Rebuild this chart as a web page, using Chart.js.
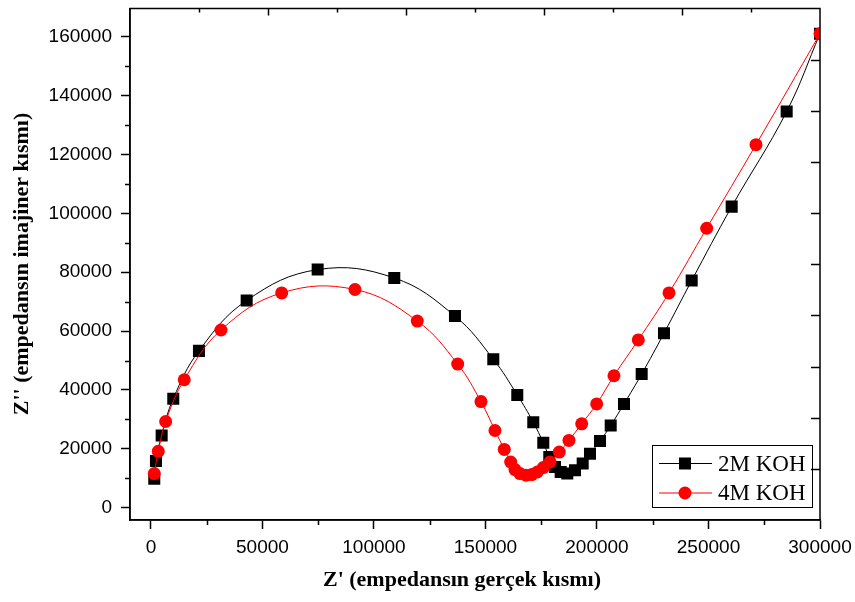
<!DOCTYPE html>
<html>
<head>
<meta charset="utf-8">
<script src="https://cdn.jsdelivr.net/npm/chart.js@4/dist/chart.umd.min.js"></script>
<style>
  html, body { margin: 0; padding: 0; background: #ffffff; }
  #wrap { width: 855px; height: 602px; }
</style>
</head>
<body>
<div id="wrap"><canvas id="c" width="855" height="602"></canvas></div>
<script>
// ---- data ----
const seriesNames = ['2M KOH', '4M KOH'];

const koh2_x = [1480, 2240, 4800, 10000, 21520, 42920, 74750, 109100, 136320, 153500,
  164260, 171430, 175920, 178610, 181160, 183720, 186680, 190130, 193590, 196860,
  201350, 206150, 212110, 220040, 230040, 242460, 260400, 285060, 300000];
const koh2_y = [9900, 15880, 24560, 37060, 53280, 70400, 80880, 78040, 65100, 50470,
  38310, 29050, 22090, 17230, 13850, 12160, 11620, 12740, 15000, 18380,
  22640, 27940, 35270, 45410, 59260, 77160, 102270, 134600, 161000];

const koh4_x = [1480, 3270, 6590, 14930, 31390, 58610, 91480, 119420, 137530, 147980,
  154260, 158430, 161300, 163230, 165470, 168160, 170720, 173230, 175920, 178920,
  183090, 187440, 193140, 199860, 207620, 218520, 232290, 249190, 271300, 300000];
const koh4_y = [11620, 19160, 29290, 43480, 60370, 72970, 74120, 63410, 48790, 36050,
  26250, 19830, 15540, 12970, 11620, 11050, 11280, 12160, 13650, 15540,
  18920, 22870, 28510, 35270, 44830, 56990, 72970, 94930, 123310, 161000];

const xTickValues = [0, 50000, 100000, 150000, 200000, 250000, 300000];
const yTickValues = [0, 20000, 40000, 60000, 80000, 100000, 120000, 140000, 160000];
const xMinorValues = [25000, 75000, 125000, 175000, 225000, 275000];
const yMinorValues = [10000, 30000, 50000, 70000, 90000, 110000, 130000, 150000];

const xTitle = "Z' (empedansın gerçek kısmı)";
const yTitle = "Z'' (empedansın imajiner kısmı)";

// ---- helpers ----
function pts(xs, ys) { return xs.map((x, i) => ({ x: x, y: ys[i] })); }

const tickFont = { family: '"Liberation Sans", Arial, sans-serif', size: 19 };

function noScalePadding(s) {
  s.paddingTop = 0; s.paddingBottom = 0; s.paddingLeft = 0; s.paddingRight = 0;
}

const framePlugin = {
  id: 'framePlugin',
  afterDraw(chart) {
    const ctx = chart.ctx;
    const ca = chart.chartArea;
    const xs = chart.scales.x, ys = chart.scales.y;
    ctx.save();
    ctx.strokeStyle = '#000';
    ctx.lineWidth = 1.5;
    ctx.strokeRect(ca.left, ca.top, ca.right - ca.left, ca.bottom - ca.top);
    // minor ticks (outward) on bottom / left
    ctx.beginPath();
    xMinorValues.forEach(v => {
      const px = Math.round(xs.getPixelForValue(v)) + 0.5;
      ctx.moveTo(px, ca.bottom); ctx.lineTo(px, ca.bottom + 5);
    });
    yMinorValues.forEach(v => {
      const py = Math.round(ys.getPixelForValue(v)) + 0.5;
      ctx.moveTo(ca.left, py); ctx.lineTo(ca.left - 5, py);
    });
    // top axis ticks (inward), 10 divisions
    const w = ca.right - ca.left, h = ca.bottom - ca.top;
    for (let k = 1; k < 10; k++) {
      const px = Math.round(ca.left + w * k / 10) + 0.5;
      const len = (k % 2 === 0) ? 7 : 4;
      ctx.moveTo(px, ca.top); ctx.lineTo(px, ca.top + len);
    }
    // right axis ticks (inward), 10 divisions
    for (let k = 1; k < 10; k++) {
      const py = Math.round(ca.top + h * k / 10) + 0.5;
      ctx.moveTo(ca.right, py); ctx.lineTo(ca.right - 9, py);
    }
    ctx.stroke();

    // axis titles
    ctx.fillStyle = '#000';
    ctx.font = 'bold 22px "Liberation Serif", "Times New Roman", serif';
    ctx.textAlign = 'center';
    ctx.textBaseline = 'middle';
    ctx.fillText(xTitle, 462, 580);
    ctx.save();
    ctx.translate(22, 264);
    ctx.rotate(-Math.PI / 2);
    ctx.fillText(yTitle, 0, 0);
    ctx.restore();
    ctx.restore();
  },
  afterDatasetsDraw(chart) {
    // legend box
    const ctx = chart.ctx;
    const ca = chart.chartArea;
    const bw = 160, bh = 62;
    const left = ca.right - 8 - bw, top = ca.bottom - 13 - bh;
    ctx.save();
    ctx.fillStyle = '#fff';
    ctx.fillRect(left, top, bw, bh);
    ctx.strokeStyle = '#000';
    ctx.lineWidth = 1;
    ctx.strokeRect(left + 0.5, top + 0.5, bw, bh);
    chart.data.datasets.forEach((ds, i) => {
      const y = top + 18.5 + i * 29.5;
      ctx.strokeStyle = ds.borderColor;
      ctx.lineWidth = 1;
      ctx.beginPath();
      ctx.moveTo(left + 7, y); ctx.lineTo(left + 60, y);
      ctx.stroke();
      ctx.fillStyle = ds.pointBackgroundColor;
      ctx.strokeStyle = ds.pointBorderColor;
      Chart.helpers.drawPoint(ctx, { pointStyle: ds.pointStyle, radius: ds.pointRadius, borderWidth: 0, rotation: 0 }, left + 33, y);
      ctx.fillStyle = '#000';
      ctx.font = '23px "Liberation Serif", "Times New Roman", serif';
      ctx.textAlign = 'left';
      ctx.textBaseline = 'middle';
      ctx.fillText(ds.label, left + 66, y + 1);
    });
    ctx.restore();
  }
};

new Chart(document.getElementById('c'), {
  type: 'scatter',
  data: {
    datasets: [
      {
        label: seriesNames[0],
        data: pts(koh2_x, koh2_y),
        order: 2,
        showLine: true,
        borderColor: '#000000',
        borderWidth: 1,
        tension: 0.4,
        pointStyle: 'rect',
        pointRadius: 8.5,
        pointBackgroundColor: '#000000',
        pointBorderColor: '#000000',
        pointBorderWidth: 0
      },
      {
        label: seriesNames[1],
        data: pts(koh4_x, koh4_y),
        order: 1,
        showLine: true,
        borderColor: '#ff0000',
        borderWidth: 1,
        tension: 0.4,
        pointStyle: 'circle',
        pointRadius: 6.5,
        pointBackgroundColor: '#ff0000',
        pointBorderColor: '#ff0000',
        pointBorderWidth: 0
      }
    ]
  },
  options: {
    responsive: false,
    animation: false,
    events: [],
    layout: { padding: { left: 0, top: 6, right: 35, bottom: 0 } },
    plugins: { legend: { display: false }, tooltip: { enabled: false } },
    scales: {
      x: {
        type: 'linear',
        min: -9400,
        max: 300000,
        afterFit(s) { s.height = 82; noScalePadding(s); },
        afterBuildTicks(s) { s.ticks = xTickValues.map(v => ({ value: v })); },
        ticks: {
          font: tickFont, color: '#000', padding: 7, maxRotation: 0, autoSkip: false,
          callback: v => String(v)
        },
        grid: { drawOnChartArea: false, drawTicks: true, tickLength: 9, tickColor: '#000', tickWidth: 1.5 },
        border: { display: true, color: '#000', width: 1.5 }
      },
      y: {
        type: 'linear',
        min: -4150,
        max: 169550,
        afterFit(s) { s.width = 130; noScalePadding(s); },
        afterBuildTicks(s) { s.ticks = yTickValues.map(v => ({ value: v })); },
        ticks: {
          font: tickFont, color: '#000', padding: 9, autoSkip: false,
          callback: v => String(v)
        },
        grid: { drawOnChartArea: false, drawTicks: true, tickLength: 9, tickColor: '#000', tickWidth: 1.5 },
        border: { display: true, color: '#000', width: 1.5 }
      }
    }
  },
  plugins: [framePlugin]
});
</script>
</body>
</html>
